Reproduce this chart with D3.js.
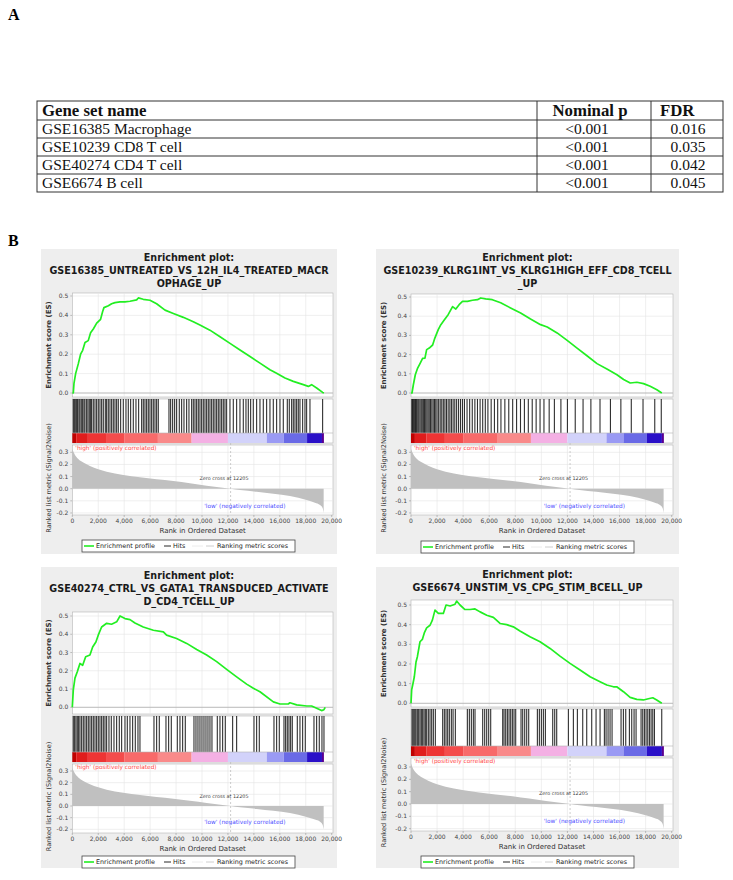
<!DOCTYPE html>
<html>
<head>
<meta charset="utf-8">
<script src="https://cdn.jsdelivr.net/npm/d3@7/dist/d3.min.js"></script>
<style>
body { margin: 0; background: #fff; }
</style>
</head>
<body>
<svg id="fig" width="733" height="880"></svg>
<script>
// ---- table A ----
var geneSets = ['GSE16385 Macrophage', 'GSE10239 CD8 T cell', 'GSE40274 CD4 T cell', 'GSE6674 B cell'];
var nominalP = ['<0.001', '<0.001', '<0.001', '<0.001'];
var fdrValues = ['0.016', '0.035', '0.042', '0.045'];
var tableHeader = ['Gene set name', 'Nominal p', 'FDR'];

// ---- shared ranked list (Signal2Noise) ----
var metricRank = [0, 77, 206, 463, 850, 1360, 2000, 2650, 3930, 5220, 6500, 7790, 9070, 10360, 12205, 12930, 14210, 15500, 16780, 18070, 18710, 19100, 19300, 19380];
var metricValue = [0.33, 0.306, 0.278, 0.245, 0.215, 0.187, 0.16, 0.14, 0.113, 0.094, 0.077, 0.063, 0.044, 0.025, 0.0, -0.011, -0.025, -0.041, -0.06, -0.094, -0.116, -0.135, -0.16, -0.2];
var zeroCross = 12205;
var xTicks = [0, 2000, 4000, 6000, 8000, 10000, 12000, 14000, 16000, 18000, 20000];
var esTicks = [0.0, 0.1, 0.2, 0.3, 0.4, 0.5];
var metricTicks = [-0.2, -0.1, 0.0, 0.1, 0.2, 0.3];

// colour bar blocks: start rank, end rank, colour
var barStart = [0, 300, 1200, 2600, 4000, 6600, 9200, 12000, 15000, 16300, 18100, 19250];
var barEnd   = [300, 1200, 2600, 4000, 6600, 9200, 12000, 15000, 16300, 18100, 19250, 19400];
var barColor = ['#c00000', '#e01c1c', '#ee3434', '#f44c4c', '#f86a6a', '#f98a8a', '#f4b0e4', '#d2d2fa', '#9a9af4', '#6a6ae6', '#2a10c8', '#5a0090'];

// ---- panel 1: GSE16385 ----
var esRank1 = [0, 77, 130, 257, 460, 640, 800, 980, 1230, 1410, 1620, 1880, 2180, 2340, 2440, 2780, 3030, 3290, 3680, 4060, 4450, 4960, 5090, 5470, 5990, 6500, 7150, 7790, 8560, 9330, 9840, 10610, 11390, 12160, 12930, 13700, 14470, 15240, 15750, 16400, 17040, 17810, 18200, 18450, 18840, 19300, 19400];
var esValue1 = [0, 0, 0.05, 0.10, 0.15, 0.20, 0.22, 0.26, 0.27, 0.31, 0.33, 0.36, 0.38, 0.42, 0.44, 0.45, 0.46, 0.466, 0.47, 0.47, 0.473, 0.48, 0.49, 0.483, 0.478, 0.46, 0.427, 0.41, 0.39, 0.367, 0.35, 0.324, 0.29, 0.256, 0.222, 0.188, 0.154, 0.12, 0.102, 0.077, 0.06, 0.043, 0.034, 0.043, 0.026, 0.003, 0];
var hits1 = [77, 154, 231, 334, 411, 514, 591, 694, 797, 900, 977, 1105, 1208, 1311, 1414, 1491, 1619, 1748, 1876, 2005, 2133, 2262, 2390, 2544, 2647, 2776, 2904, 3033, 3161, 3290, 3418, 3547, 3727, 3932, 4138, 4318, 4498, 4703, 4909, 5114, 5346, 5474, 5603, 5731, 5860, 5988, 6117, 6245, 6374, 6502, 6631, 7453, 7582, 7736, 7890, 8044, 8250, 8430, 8610, 8815, 8995, 9201, 9329, 9458, 9586, 9715, 9843, 9972, 10100, 10229, 10357, 10486, 10614, 10743, 10871, 11000, 11128, 11257, 11385, 11514, 11642, 11771, 11899, 12156, 12413, 12670, 12927, 13184, 13390, 13570, 13750, 13955, 14212, 14469, 14726, 14983, 15240, 15497, 15754, 16011, 16268, 16577, 16731, 16911, 17039, 17168, 17296, 17425, 17553, 17759, 17939, 18067, 18324, 19300];
var title1 = ['Enrichment plot:', 'GSE16385_UNTREATED_VS_12H_IL4_TREATED_MACR', 'OPHAGE_UP'];

// ---- panel 2: GSE10239 ----
var esRank2 = [0, 76, 180, 330, 510, 710, 890, 1070, 1200, 1400, 1660, 1830, 2090, 2290, 2550, 2850, 3190, 3440, 3690, 3950, 4330, 4710, 5100, 5350, 5730, 6240, 6880, 7640, 8410, 9170, 9940, 10450, 11210, 11980, 12740, 13500, 14270, 15030, 15800, 16310, 16820, 17330, 17840, 18350, 18860, 19240];
var esValue2 = [0, 0, 0.043, 0.095, 0.13, 0.156, 0.18, 0.182, 0.226, 0.234, 0.25, 0.286, 0.33, 0.356, 0.38, 0.408, 0.45, 0.437, 0.46, 0.477, 0.477, 0.483, 0.486, 0.495, 0.49, 0.486, 0.47, 0.443, 0.417, 0.385, 0.356, 0.344, 0.313, 0.274, 0.234, 0.194, 0.153, 0.125, 0.095, 0.07, 0.052, 0.056, 0.049, 0.035, 0.017, 0];
var hits2 = [60, 120, 200, 280, 350, 430, 520, 600, 690, 780, 860, 950, 1040, 1130, 1220, 1310, 1400, 1500, 1600, 1700, 1800, 1900, 2000, 2120, 2240, 2360, 2480, 2600, 2720, 2850, 2980, 3100, 3230, 3360, 3500, 3650, 3800, 3950, 4100, 4300, 4500, 4700, 4900, 5100, 5300, 5500, 5700, 5900, 6150, 6400, 6650, 6900, 7200, 7500, 7800, 8100, 8400, 8700, 9000, 9300, 9600, 9900, 10200, 10600, 11000, 11500, 12000, 12600, 13200, 13800, 14500, 15300, 16100, 16900, 17800, 18700, 19200];
var title2 = ['Enrichment plot:', 'GSE10239_KLRG1INT_VS_KLRG1HIGH_EFF_CD8_TCELL', '_UP'];

// ---- panel 3: GSE40274 ----
var esRank3 = [0, 77, 205, 385, 590, 800, 1030, 1360, 1570, 1820, 2000, 2260, 2650, 3030, 3420, 3680, 4060, 4450, 4830, 5470, 6250, 7020, 7270, 8040, 8820, 9590, 10360, 11130, 11900, 12670, 13440, 13960, 14470, 15500, 16010, 16650, 16780, 17300, 18070, 18450, 18840, 19220, 19400, 19500];
var esValue3 = [0, 0.095, 0.16, 0.195, 0.24, 0.23, 0.277, 0.286, 0.33, 0.358, 0.395, 0.44, 0.46, 0.455, 0.468, 0.50, 0.486, 0.48, 0.462, 0.44, 0.422, 0.413, 0.395, 0.377, 0.35, 0.317, 0.286, 0.25, 0.208, 0.167, 0.127, 0.104, 0.085, 0.03, 0.018, 0.018, 0.025, 0.013, 0.007, 0.007, -0.005, -0.018, -0.013, 0];
var hits3 = [77, 180, 283, 386, 488, 591, 720, 848, 977, 1105, 1234, 1362, 1491, 1619, 1748, 1876, 2005, 2133, 2262, 2390, 2519, 2647, 2827, 3007, 3213, 3418, 3624, 3804, 4061, 4241, 4446, 4652, 4857, 5063, 5217, 6297, 6502, 6708, 7222, 7427, 7633, 8096, 8301, 8507, 8712, 9381, 9535, 9689, 9843, 9997, 10152, 10306, 10460, 10614, 10768, 11180, 11385, 11591, 11796, 12362, 12670, 14007, 14212, 14418, 15549, 15754, 15960, 16320, 16448, 16577, 16705, 16834, 16962, 17348, 17553, 17759, 17964, 18633, 18838, 19043, 19249, 19404];
var title3 = ['Enrichment plot:', 'GSE40274_CTRL_VS_GATA1_TRANSDUCED_ACTIVATE', 'D_CD4_TCELL_UP'];

// ---- panel 4: GSE6674 ----
var esRank4 = [0, 50, 130, 255, 385, 490, 690, 870, 1020, 1200, 1460, 1640, 1840, 2100, 2480, 2690, 3000, 3380, 3500, 3760, 4140, 4530, 4910, 5300, 5810, 6320, 6830, 7340, 7850, 8360, 9130, 9900, 10670, 11430, 12200, 12970, 13740, 14500, 15020, 15530, 15780, 16300, 16810, 17320, 17830, 18210, 18550, 18850, 19240];
var esValue4 = [0, 0.068, 0.093, 0.135, 0.21, 0.237, 0.313, 0.325, 0.358, 0.384, 0.397, 0.423, 0.474, 0.457, 0.457, 0.5, 0.495, 0.504, 0.52, 0.5, 0.477, 0.477, 0.48, 0.465, 0.448, 0.437, 0.406, 0.40, 0.389, 0.368, 0.338, 0.313, 0.279, 0.24, 0.203, 0.169, 0.135, 0.11, 0.093, 0.084, 0.084, 0.059, 0.03, 0.02, 0.017, 0.023, 0.028, 0.017, 0];
var hits4 = [77, 153, 230, 307, 384, 486, 588, 691, 793, 895, 998, 1100, 1202, 1330, 1458, 1586, 1714, 1867, 2430, 2558, 2686, 2814, 2942, 3095, 3227, 3402, 4323, 4477, 4630, 4783, 4911, 5500, 5653, 5807, 5960, 6114, 7035, 7137, 7265, 7393, 7521, 7648, 7776, 7904, 8032, 8441, 8569, 8723, 8876, 9030, 9695, 9848, 10002, 10155, 10309, 10872, 11025, 11178, 12074, 12457, 12764, 13174, 13481, 13864, 14197, 14504, 14836, 14964, 15118, 15271, 15425, 16115, 16294, 16474, 16755, 16934, 17113, 17267, 17650, 17778, 17906, 18034, 18163, 18291, 18419, 18547, 18675, 19236];
var title4 = ['Enrichment plot:', 'GSE6674_UNSTIM_VS_CPG_STIM_BCELL_UP'];

var SANS = 'DejaVu Sans, sans-serif';
var SERIF = 'Liberation Serif, Times New Roman, serif';

var svg = d3.select('#fig');

function drawTable(svg){
  var left = 37, right = 723, c1 = 537, c2 = 651;
  var top = 101, headH = 19, rowH = 18;
  var rows = geneSets.length;
  var bottom = top + headH + rows*rowH;
  var g = svg.append('g').attr('font-family', SERIF).attr('font-size', 15.5).attr('fill', '#111');

  g.append('rect').attr('x', left).attr('y', top).attr('width', right-left).attr('height', bottom-top)
    .attr('fill', 'none').attr('stroke', '#333').attr('stroke-width', 1);
  [c1, c2].forEach(function(cx){
    g.append('line').attr('x1', cx).attr('x2', cx).attr('y1', top).attr('y2', bottom)
      .attr('stroke', '#333').attr('stroke-width', 1);
  });
  for (var i = 0; i < rows; i++){
    var yy = top + headH + i*rowH;
    g.append('line').attr('x1', left).attr('x2', right).attr('y1', yy).attr('y2', yy)
      .attr('stroke', '#333').attr('stroke-width', 1);
  }
  var hb = g.append('g').attr('font-weight', 'bold').attr('font-size', 16.8);
  hb.append('text').attr('x', left+5).attr('y', top+15).text(tableHeader[0]);
  hb.append('text').attr('x', 590).attr('y', top+15).attr('text-anchor', 'middle').text(tableHeader[1]);
  hb.append('text').attr('x', c2+9).attr('y', top+15).text(tableHeader[2]);

  g.selectAll('.gs').data(geneSets).enter().append('text')
    .attr('x', left+5).attr('y', (d,i)=>top+headH+i*rowH+14).text(d=>d);
  g.selectAll('.np').data(nominalP).enter().append('text')
    .attr('x', 587).attr('y', (d,i)=>top+headH+i*rowH+14).attr('text-anchor', 'middle').text(d=>d);
  g.selectAll('.fdr').data(fdrValues).enter().append('text')
    .attr('x', 688).attr('y', (d,i)=>top+headH+i*rowH+14).attr('text-anchor', 'middle').text(d=>d);
}

function drawPanel(svg, L, title, esRank, esValue, hits){
  var g = svg.append('g');
  g.append('rect').attr('x', L.px).attr('y', L.py).attr('width', L.pw).attr('height', L.ph).attr('fill', '#eeeeee');

  title.forEach(function(t, i){
    g.append('text').attr('x', L.px + L.pw/2).attr('y', L.titleY[i])
      .attr('text-anchor', 'middle').attr('font-family', SANS).attr('font-weight', 'bold')
      .attr('font-size', 9.6).attr('fill', '#1a1a1a').text(t);
  });

  var x = d3.scaleLinear().domain([0, 20000]).range([L.x0, L.x20]);
  var yEs = d3.scaleLinear().domain([0, 0.5]).range([L.es0, L.es5]);
  var yM = d3.scaleLinear().domain([0, 0.3]).range([L.m0, L.m3]);
  var xr = L.xr;

  // white plot boxes
  function box(y0, y1){
    g.append('rect').attr('x', L.x0).attr('y', y0).attr('width', xr-L.x0).attr('height', y1-y0)
      .attr('fill', '#fff').attr('stroke', '#b4b4b4').attr('stroke-width', 0.6);
  }
  box(L.esTop, L.esBot);
  box(L.hitsTop, L.barBot);
  box(L.mTop, L.mBot);

  // grid
  var grid = g.append('g').attr('stroke', '#e4e4e4').attr('stroke-width', 0.6);
  xTicks.slice(1, -1).forEach(function(t){
    grid.append('line').attr('x1', x(t)).attr('x2', x(t)).attr('y1', L.esTop).attr('y2', L.esBot);
    grid.append('line').attr('x1', x(t)).attr('x2', x(t)).attr('y1', L.mTop).attr('y2', L.mBot);
  });
  esTicks.forEach(function(t){
    grid.append('line').attr('x1', L.x0).attr('x2', xr).attr('y1', yEs(t)).attr('y2', yEs(t));
  });
  metricTicks.forEach(function(t){
    grid.append('line').attr('x1', L.x0).attr('x2', xr).attr('y1', yM(t)).attr('y2', yM(t));
  });
  g.append('line').attr('x1', L.x0).attr('x2', xr).attr('y1', yEs(0)).attr('y2', yEs(0))
    .attr('stroke', '#a8a8a8').attr('stroke-width', 0.7);

  // enrichment profile
  var esData = esRank.map(function(r, i){ return {r: r, v: esValue[i]}; });
  g.append('path').datum(esData)
    .attr('d', d3.line().x(d=>x(d.r)).y(d=>yEs(d.v)))
    .attr('fill', 'none').attr('stroke', '#22ee22').attr('stroke-width', 1.7).attr('stroke-linejoin', 'round');

  // hits
  g.selectAll('.hit').data(hits).enter().append('line')
    .attr('x1', d=>x(d)).attr('x2', d=>x(d)).attr('y1', L.hitsTop).attr('y2', L.barTop)
    .attr('stroke', '#000').attr('stroke-opacity', 0.82).attr('stroke-width', 1.1);

  // colour bar
  g.selectAll('.cb').data(barColor).enter().append('rect')
    .attr('x', (d,i)=>x(barStart[i])).attr('width', (d,i)=>x(barEnd[i])-x(barStart[i]))
    .attr('y', L.barTop).attr('height', L.barBot-L.barTop).attr('fill', d=>d);
  g.append('line').attr('x1', L.x0).attr('x2', xr).attr('y1', L.barTop).attr('y2', L.barTop)
    .attr('stroke', '#b4b4b4').attr('stroke-width', 0.6);

  // ranked list metric
  var mData = metricRank.map(function(r, i){ return {r: r, v: metricValue[i]}; });
  g.append('path').datum(mData)
    .attr('d', d3.area().x(d=>x(d.r)).y0(yM(0)).y1(d=>yM(d.v)).curve(d3.curveMonotoneX))
    .attr('fill', '#c0c0c0');
  g.append('line').attr('x1', x(zeroCross)).attr('x2', x(zeroCross)).attr('y1', L.barBot).attr('y2', L.mBot)
    .attr('stroke', '#b8b8b8').attr('stroke-width', 0.7).attr('stroke-dasharray', '2,2');

  g.append('text').attr('x', L.x0+3).attr('y', L.barBot+6.5)
    .attr('font-family', SANS).attr('font-size', 5.8).attr('fill', '#ff4a4a')
    .text("'high' (positively correlated)");
  g.append('text').attr('x', x(11700)).attr('y', yM(0.07))
    .attr('text-anchor', 'middle').attr('font-family', SANS).attr('font-size', 4.9).attr('fill', '#444')
    .text('Zero cross at ' + zeroCross);
  g.append('text').attr('x', x(13300)).attr('y', yM(-0.155))
    .attr('text-anchor', 'middle').attr('font-family', SANS).attr('font-size', 5.8).attr('fill', '#5050ff')
    .text("'low' (negatively correlated)");

  // axes
  var tickFont = function(sel){
    sel.attr('font-family', SANS).attr('font-size', 6).attr('fill', '#444');
  };
  var yA = g.append('g').call(tickFont);
  esTicks.forEach(function(t){
    yA.append('text').attr('x', L.x0-4).attr('y', yEs(t)+2).attr('text-anchor', 'end').text(d3.format('.1f')(t));
    yA.append('line').attr('x1', L.x0-2).attr('x2', L.x0).attr('y1', yEs(t)).attr('y2', yEs(t)).attr('stroke', '#888').attr('stroke-width', 0.5);
  });
  metricTicks.forEach(function(t){
    yA.append('text').attr('x', L.x0-4).attr('y', yM(t)+2).attr('text-anchor', 'end').text(d3.format('.1f')(t).replace('−', '-'));
    yA.append('line').attr('x1', L.x0-2).attr('x2', L.x0).attr('y1', yM(t)).attr('y2', yM(t)).attr('stroke', '#888').attr('stroke-width', 0.5);
  });
  xTicks.forEach(function(t){
    yA.append('text').attr('x', x(t)).attr('y', L.mBot+8).attr('text-anchor', 'middle').text(d3.format(',')(t));
    yA.append('line').attr('x1', x(t)).attr('x2', x(t)).attr('y1', L.mBot).attr('y2', L.mBot+2).attr('stroke', '#888').attr('stroke-width', 0.5);
  });

  g.append('text').attr('x', (L.x0+xr)/2).attr('y', L.mBot+17.5).attr('text-anchor', 'middle')
    .attr('font-family', SANS).attr('font-size', 7).attr('fill', '#333').text('Rank in Ordered Dataset');
  var esMid = (L.esTop+L.esBot)/2;
  g.append('text').attr('transform', 'translate(' + (L.px+10) + ',' + esMid + ') rotate(-90)')
    .attr('text-anchor', 'middle').attr('font-family', SANS).attr('font-weight', 'bold')
    .attr('font-size', 7).attr('fill', '#333').text('Enrichment score (ES)');
  var mMid = (L.mTop+L.mBot)/2 - 2;
  g.append('text').attr('transform', 'translate(' + (L.px+10) + ',' + mMid + ') rotate(-90)')
    .attr('text-anchor', 'middle').attr('font-family', SANS)
    .attr('font-size', 6.6).attr('fill', '#333').text('Ranked list metric (Signal2Noise)');

  // legend
  var lg = g.append('g').attr('transform', 'translate(' + L.lx + ',' + L.ly + ')');
  lg.append('rect').attr('width', 213).attr('height', 12).attr('fill', '#fff')
    .attr('stroke', '#444').attr('stroke-width', 0.8);
  var lt = function(sel){ sel.attr('font-family', SANS).attr('font-size', 6.4).attr('fill', '#222'); };
  lg.append('line').attr('x1', 2).attr('x2', 12).attr('y1', 6).attr('y2', 6).attr('stroke', '#22ee22').attr('stroke-width', 1.6);
  lg.append('text').attr('x', 14).attr('y', 8.3).call(lt).text('Enrichment profile');
  lg.append('line').attr('x1', 82).attr('x2', 89).attr('y1', 6).attr('y2', 6).attr('stroke', '#111').attr('stroke-width', 0.9);
  lg.append('text').attr('x', 91).attr('y', 8.3).call(lt).text('Hits');
  lg.append('line').attr('x1', 110).attr('x2', 121).attr('y1', 6).attr('y2', 6).attr('stroke', '#eaeaea').attr('stroke-width', 0.9);
  lg.append('line').attr('x1', 124).attr('x2', 132).attr('y1', 6).attr('y2', 6).attr('stroke', '#c8c8c8').attr('stroke-width', 0.9);
  lg.append('text').attr('x', 135).attr('y', 8.3).call(lt).text('Ranking metric scores');
}

// page labels
svg.append('text').attr('x', 8).attr('y', 20).attr('font-family', SERIF).attr('font-weight', 'bold')
  .attr('font-size', 16).text('A');
svg.append('text').attr('x', 8).attr('y', 246).attr('font-family', SERIF).attr('font-weight', 'bold')
  .attr('font-size', 16).text('B');

drawTable(svg);

var L1 = {px: 41, py: 249, pw: 296, ph: 305, titleY: [261, 274, 287],
  x0: 72.3, x20: 331.7, xr: 333,
  esTop: 293, esBot: 397, es0: 393, es5: 296,
  hitsTop: 399, barTop: 433, barBot: 443,
  mTop: 445, mBot: 515, m0: 488.7, m3: 452.3,
  lx: 82, ly: 540};
var L2 = {px: 376, py: 249, pw: 303, ph: 305, titleY: [261, 274, 287],
  x0: 411, x20: 671.7, xr: 673,
  esTop: 294, esBot: 397, es0: 393, es5: 297,
  hitsTop: 399, barTop: 433, barBot: 443,
  mTop: 445, mBot: 515, m0: 488.7, m3: 452.3,
  lx: 421, ly: 541};
var L3 = {px: 41, py: 567, pw: 296, ph: 301, titleY: [579, 592, 605],
  x0: 72.3, x20: 331.7, xr: 333,
  esTop: 612, esBot: 714, es0: 707.3, es5: 616,
  hitsTop: 716, barTop: 752, barBot: 762,
  mTop: 764, mBot: 833, m0: 806, m3: 771,
  lx: 82, ly: 856};
var L4 = {px: 376, py: 567, pw: 303, ph: 301, titleY: [578, 591],
  x0: 411, x20: 671.7, xr: 673,
  esTop: 600, esBot: 707, es0: 703.3, es5: 605,
  hitsTop: 709, barTop: 746, barBot: 756,
  mTop: 758, mBot: 831, m0: 804, m3: 767,
  lx: 421, ly: 856};

drawPanel(svg, L1, title1, esRank1, esValue1, hits1);
drawPanel(svg, L2, title2, esRank2, esValue2, hits2);
drawPanel(svg, L3, title3, esRank3, esValue3, hits3);
drawPanel(svg, L4, title4, esRank4, esValue4, hits4);
</script>
</body>
</html>
